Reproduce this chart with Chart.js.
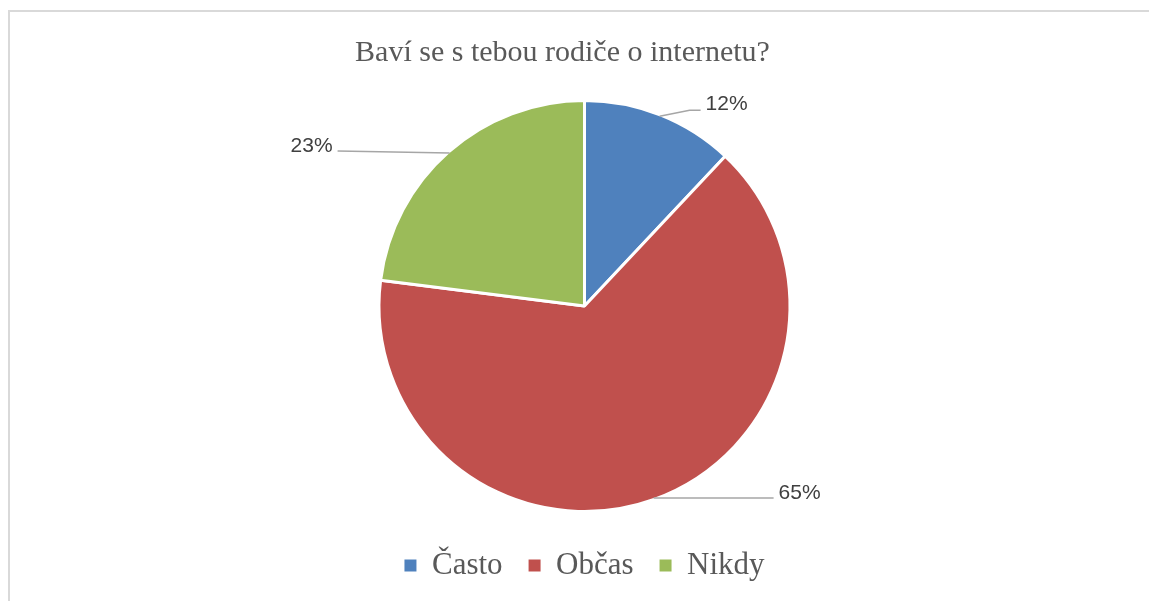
<!DOCTYPE html>
<html>
<head>
<meta charset="utf-8">
<script src="https://cdn.jsdelivr.net/npm/chart.js@4.4.1/dist/chart.umd.min.js"></script>
<style>
  html, body { margin: 0; padding: 0; background: #ffffff; overflow: hidden; }
  #frame { position: absolute; left: 8px; top: 10px; width: 1160px; height: 640px; border: 2px solid #d9d9d9; box-sizing: border-box; }
  #wrap { position: absolute; left: 0; top: 0; width: 1149px; height: 601px; }
</style>
</head>
<body>
<div id="frame"></div>
<div id="wrap"><canvas id="c" width="1149" height="601"></canvas></div>
<script>
const titleText = "Baví se s tebou rodiče o internetu?";
const categories = ["Často", "Občas", "Nikdy"];
const values = [12, 65, 23];
const colors = ["#4f81bd", "#c0504d", "#9bbb59"];

// keeps the pie to the right of the title's centre, like the reference
const leftSpacer = {
  id: 'leftSpacer',
  beforeInit(chart, args, opts) {
    const w = opts.width || 0;
    const box = {
      position: 'left', weight: 0, fullSize: false,
      options: {},
      width: 0, height: 0, left: 0, top: 0, right: 0, bottom: 0,
      isHorizontal() { return false; },
      update(maxWidth, maxHeight) { this.width = w; this.height = maxHeight; },
      draw() {}
    };
    Chart.layouts.addBox(chart, box);
  }
};

const outsideLabels = {
  id: 'outsideLabels',
  afterDatasetsDraw(chart, args, opts) {
    const ctx = chart.ctx;
    const meta = chart.getDatasetMeta(0);
    const total = values.reduce((a, b) => a + b, 0);
    ctx.save();
    meta.data.forEach((arc, i) => {
      const p = arc.getProps(['x', 'y', 'startAngle', 'endAngle', 'outerRadius'], true);
      const mid = (p.startAngle + p.endAngle) / 2;
      const r = p.outerRadius - 1.5;
      const ax = p.x + Math.cos(mid) * r;
      const ay = p.y + Math.sin(mid) * r;
      const o = opts.placement[i];
      ctx.strokeStyle = opts.lineColor;
      ctx.lineWidth = 1.5;
      ctx.beginPath();
      ctx.moveTo(ax, ay);
      o.path.forEach(pt => ctx.lineTo(ax + pt[0], ay + pt[1]));
      ctx.stroke();
      ctx.fillStyle = opts.color;
      ctx.font = opts.font;
      ctx.textAlign = o.align;
      ctx.textBaseline = 'alphabetic';
      const pct = Math.round(values[i] / total * 100) + '%';
      ctx.fillText(pct, ax + o.text[0], ay + o.text[1]);
    });
    ctx.restore();
  }
};

new Chart(document.getElementById('c'), {
  type: 'pie',
  data: {
    labels: categories,
    datasets: [{
      data: values,
      backgroundColor: colors,
      borderColor: '#ffffff',
      borderWidth: 3,
      hoverOffset: 0
    }]
  },
  plugins: [leftSpacer, outsideLabels],
  options: {
    responsive: false,
    animation: false,
    events: [],
    radius: 205.5,
    layout: { padding: { left: 0, right: 24, top: 0, bottom: 10 } },
    plugins: {
      leftSpacer: { width: 44 },
      title: {
        display: true,
        text: titleText,
        color: '#595959',
        font: { family: "'Liberation Serif', 'Times New Roman', serif", size: 30, weight: 'normal', lineHeight: 1.2 },
        padding: { top: 35, bottom: 17 }
      },
      legend: {
        display: true,
        position: 'bottom',
        fullSize: false,
        labels: {
          boxWidth: 12,
          boxHeight: 12,
          padding: 26,
          color: '#595959',
          font: { family: "'Liberation Serif', 'Times New Roman', serif", size: 31 },
          generateLabels(chart) {
            const items = Chart.overrides.pie.plugins.legend.labels.generateLabels(chart);
            return items.map(it => Object.assign(it, { lineWidth: 0, strokeStyle: it.fillStyle }));
          }
        }
      },
      tooltip: { enabled: false },
      outsideLabels: {
        color: '#404040',
        lineColor: '#a6a6a6',
        font: "21px 'Liberation Sans', Arial, sans-serif",
        placement: [
          { path: [[30, -6], [41, -6]], text: [46, -6], align: 'left' },
          { path: [[120, 0]], text: [125, 1], align: 'left' },
          { path: [[-112, -2]], text: [-117, -1], align: 'right' }
        ]
      }
    }
  }
});
</script>
</body>
</html>
